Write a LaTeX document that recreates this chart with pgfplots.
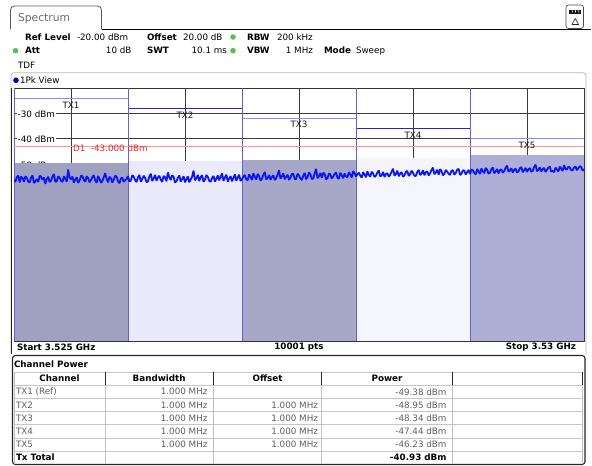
\documentclass[border=0pt]{standalone}
\usepackage{fontspec}
\setmainfont{DejaVu Sans}
\usepackage{pgfplots}
\pgfplotsset{compat=1.18}
\definecolor{ch1}{RGB}{160,160,192}
\definecolor{ch2}{RGB}{234,234,251}
\definecolor{ch3}{RGB}{167,167,200}
\definecolor{ch4}{RGB}{245,245,254}
\definecolor{ch5}{RGB}{174,174,214}
\definecolor{bound}{RGB}{95,95,235}
\definecolor{lvllight}{RGB}{140,140,240}
\definecolor{lvldark}{RGB}{40,40,190}
\definecolor{trace}{RGB}{10,20,255}
\definecolor{dline}{RGB}{255,150,150}
\definecolor{dtext}{RGB}{235,40,40}
\definecolor{gridc}{RGB}{60,60,60}
\definecolor{ledgreen}{RGB}{90,190,90}
\definecolor{ttext}{RGB}{95,95,95}
\begin{document}
\begin{tikzpicture}[x=1bp,y=1bp, every node/.style={inner sep=0pt, outer sep=0pt, font=\fontsize{8.8}{10}\selectfont}]
\path[use as bounding box] (0,0) rectangle (592,-466);
\fill[white] (0,0) rectangle (592,-466);
% tab
\draw[gray!70!black, line width=0.8bp] (10.5,-29.5) -- (10.5,-10) arc[start angle=180,end angle=90,radius=4] -- (97.5,-6) arc[start angle=90,end angle=0,radius=4] -- (101.5,-29.5);
\draw[black, line width=1.5bp] (101.5,-29.5) -- (591,-29.5);
\node[anchor=west, text=gray!85!black, font=\fontsize{10.8}{12}\selectfont] at (18,-18.5) {Spectrum};
% icon
\draw[gray!60!black, rounded corners=2.5bp, line width=0.7bp, fill=white] (566,-5) rectangle (583.5,-28.5);
\fill[gray!20!black] (569,-10.5) rectangle (581,-13.8);
\fill[white] (572,-10.5) rectangle (572.6,-12.5) (575.2,-10.5) rectangle (575.8,-12.5) (578.4,-10.5) rectangle (579,-12.5);
\draw[gray!30!black, line width=0.6bp] (572,-24.5) -- (578.5,-24.5) -- (575.25,-18.5) -- cycle;
% header text
\node[anchor=west] at (25,-37) {\bfseries Ref Level};
\node[anchor=west] at (77,-37) {-20.00 dBm};
\node[anchor=west] at (147,-37) {\bfseries Offset};
\node[anchor=west] at (183,-37) {20.00 dB};
\fill[ledgreen] (233,-37) circle (2.8);
\node[anchor=west] at (247,-37) {\bfseries RBW};
\node[anchor=west] at (277,-37) {200 kHz};
\fill[ledgreen] (15.5,-50.7) circle (2.8);
\node[anchor=west] at (25,-50.7) {\bfseries Att};
\node[anchor=east] at (131.5,-50.7) {10 dB};
\node[anchor=west] at (147,-50.7) {\bfseries SWT};
\node[anchor=east] at (227,-50.7) {10.1 ms};
\fill[ledgreen] (233,-50.7) circle (2.8);
\node[anchor=west] at (247,-50.7) {\bfseries VBW};
\node[anchor=east] at (313,-50.7) {1 MHz};
\node[anchor=west] at (324,-50.7) {\bfseries Mode};
\node[anchor=west] at (356,-50.7) {Sweep};
\node[anchor=west] at (18,-65.5) {TDF};
% plot container
\draw[gray!55, line width=0.8bp, rounded corners=3bp] (11,-354) -- (11,-72.7) -- (586,-72.7) -- (586,-354);
\draw[gray!30!black, line width=1bp] (11.8,-88) -- (11.8,-353.5);
\fill[blue!80!black] (16,-80.3) circle (2.8);
\node[anchor=west] at (20,-80.3) {1Pk View};
\node[anchor=west] at (17,-347) {\bfseries Start 3.525 GHz};
\node at (299,-347) {\bfseries 10001 pts};
\node[anchor=east] at (576,-347) {\bfseries Stop 3.53 GHz};
\begin{axis}[
  at={(14bp,-341bp)}, anchor=south west, scale only axis,
  width=570bp, height=252.7bp,
  xmin=0, xmax=5, ymin=-120, ymax=-20,
  xtick={0.5,1.5,2.5,3.5,4.5}, ytick={-110,-100,-90,-80,-70,-60,-50,-40,-30},
  xticklabels={}, yticklabels={}, major tick length=0pt,
  grid=major, major grid style={gridc, line width=0.7bp},
  axis line style={draw=gray!40!black, line width=0.8bp},
  clip=true,
]
\node[anchor=west, fill=white, inner sep=1bp] at (axis cs:0.024,-50.4) {-50 dBm};
\addplot[fill=ch1, draw=none] coordinates {(0,-120) (0,-49.38) (1,-49.38) (1,-120)} -- cycle;
\addplot[fill=ch2, draw=none] coordinates {(1,-120) (1,-48.95) (2,-48.95) (2,-120)} -- cycle;
\addplot[fill=ch3, draw=none] coordinates {(2,-120) (2,-48.34) (3,-48.34) (3,-120)} -- cycle;
\addplot[fill=ch4, draw=none] coordinates {(3,-120) (3,-47.44) (4,-47.44) (4,-120)} -- cycle;
\addplot[fill=ch5, draw=none] coordinates {(4,-120) (4,-46.23) (5,-46.23) (5,-120)} -- cycle;
\addplot[lvllight, line width=1bp] coordinates {(0,-24.2) (1,-24.2)};
\addplot[lvldark, line width=1bp] coordinates {(1,-27.9) (2,-27.9)};
\addplot[lvllight, line width=1bp] coordinates {(2,-32.0) (3,-32.0)};
\addplot[lvldark, line width=1bp] coordinates {(3,-35.8) (4,-35.8)};
\addplot[lvllight, line width=1bp] coordinates {(4,-39.8) (5,-39.8)};
\addplot[bound, line width=1bp] coordinates {(0,-20) (0,-120)};
\addplot[bound, line width=1bp] coordinates {(1,-20) (1,-120)};
\addplot[bound, line width=1bp] coordinates {(2,-20) (2,-120)};
\addplot[bound, line width=1bp] coordinates {(3,-20) (3,-120)};
\addplot[bound, line width=1bp] coordinates {(4,-20) (4,-120)};
\addplot[bound, line width=1bp] coordinates {(5,-20) (5,-120)};
\addplot[dline, line width=1bp] coordinates {(0,-43) (5,-43)};
\node[anchor=west, text=dtext] at (axis cs:0.518,-43.6) {D1~~-43.000 dBm};
\node[anchor=west, fill=white, inner sep=1bp] at (axis cs:0.024,-30.3) {-30 dBm};
\node[anchor=west, fill=white, inner sep=1bp] at (axis cs:0.024,-40.2) {-40 dBm};
\node[text=gray!20!black] at (axis cs:0.5,-26.6) {TX1};
\node[text=gray!20!black] at (axis cs:1.5,-30.8) {TX2};
\node[text=gray!20!black] at (axis cs:2.5,-34.1) {TX3};
\node[text=gray!20!black] at (axis cs:3.5,-38.5) {TX4};
\node[text=gray!20!black] at (axis cs:4.5,-42.4) {TX5};
\addplot[trace, line width=1.8bp, line join=bevel] coordinates {
(0,-56.4)(0.0125,-57.0)(0.025,-55.1)(0.0375,-54.6)(0.05,-57.2)(0.0625,-54.9)(0.075,-55.6)(0.0875,-57.0)(0.1,-54.8)(0.1125,-55.5)(0.125,-56.9)(0.1375,-57.3)(0.15,-55.3)(0.1625,-54.5)(0.175,-57.5)(0.1875,-56.8)(0.2,-55.9)(0.2125,-57.1)(0.225,-54.6)(0.2375,-55.0)
(0.25,-56.2)(0.2625,-55.3)(0.275,-57.8)(0.2875,-55.9)(0.3,-55.0)(0.3125,-57.1)(0.325,-56.5)(0.3375,-55.0)(0.35,-53.9)(0.3625,-57.0)(0.375,-56.8)(0.3875,-54.9)(0.4,-55.4)(0.4125,-56.6)(0.425,-57.1)(0.4375,-54.8)(0.45,-55.7)(0.4625,-57.0)(0.475,-52.1)(0.4875,-55.4)
(0.5,-56.0)(0.5125,-54.9)(0.525,-57.3)(0.5375,-56.2)(0.55,-55.2)(0.5625,-57.4)(0.575,-56.6)(0.5875,-54.6)(0.6,-54.7)(0.6125,-56.3)(0.625,-57.0)(0.6375,-54.8)(0.65,-55.5)(0.6625,-57.2)(0.675,-56.3)(0.6875,-55.1)(0.7,-54.4)(0.7125,-56.5)(0.725,-57.4)(0.7375,-54.7)
(0.75,-55.8)(0.7625,-57.4)(0.775,-56.7)(0.7875,-55.2)(0.8,-53.6)(0.8125,-55.9)(0.825,-57.2)(0.8375,-55.0)(0.85,-55.6)(0.8625,-57.3)(0.875,-56.1)(0.8875,-54.6)(0.9,-54.9)(0.9125,-56.8)(0.925,-57.6)(0.9375,-55.7)(0.95,-55.3)(0.9625,-57.0)(0.975,-56.4)(0.9875,-55.9)
(1,-54.8)(1.0125,-56.9)(1.025,-56.5)(1.0375,-54.4)(1.05,-55.0)(1.0625,-56.3)(1.075,-57.1)(1.0875,-55.2)(1.1,-54.3)(1.1125,-57.0)(1.125,-56.0)(1.1375,-54.6)(1.15,-55.4)(1.1625,-57.1)(1.175,-56.9)(1.1875,-54.9)(1.2,-53.8)(1.2125,-56.7)(1.225,-55.7)(1.2375,-54.3)
(1.25,-56.6)(1.2625,-55.3)(1.275,-54.6)(1.2875,-56.2)(1.3,-57.0)(1.3125,-54.7)(1.325,-55.2)(1.3375,-56.8)(1.35,-53.3)(1.3625,-55.2)(1.375,-56.3)(1.3875,-54.4)(1.4,-55.0)(1.4125,-57.3)(1.425,-56.8)(1.4375,-55.4)(1.45,-54.5)(1.4625,-56.9)(1.475,-55.9)(1.4875,-54.8)
(1.5,-57.2)(1.5125,-56.0)(1.525,-54.9)(1.5375,-57.2)(1.55,-56.1)(1.5625,-54.9)(1.575,-52.6)(1.5875,-56.4)(1.6,-55.6)(1.6125,-54.3)(1.625,-56.7)(1.6375,-55.1)(1.65,-54.4)(1.6625,-57.0)(1.675,-56.2)(1.6875,-54.3)(1.7,-55.1)(1.7125,-56.6)(1.725,-57.0)(1.7375,-55.5)
(1.75,-54.7)(1.7625,-56.9)(1.775,-55.8)(1.7875,-54.5)(1.8,-56.4)(1.8125,-55.0)(1.825,-53.7)(1.8375,-56.6)(1.85,-55.3)(1.8625,-54.2)(1.875,-56.9)(1.8875,-55.7)(1.9,-54.8)(1.9125,-56.8)(1.925,-55.5)(1.9375,-54.1)(1.95,-56.6)(1.9625,-55.3)(1.975,-54.2)(1.9875,-56.7)
(2,-55.9)(2.0125,-55.0)(2.025,-54.3)(2.0375,-56.0)(2.05,-56.4)(2.0625,-54.1)(2.075,-55.0)(2.0875,-56.3)(2.1,-53.6)(2.1125,-55.0)(2.125,-56.1)(2.1375,-53.9)(2.15,-54.7)(2.1625,-56.5)(2.175,-55.8)(2.1875,-54.2)(2.2,-53.1)(2.2125,-56.1)(2.225,-55.5)(2.2375,-54.3)
(2.25,-56.2)(2.2625,-55.1)(2.275,-54.4)(2.2875,-56.3)(2.3,-55.6)(2.3125,-54.1)(2.325,-52.4)(2.3375,-55.8)(2.35,-54.9)(2.3625,-53.7)(2.375,-56.0)(2.3875,-55.0)(2.4,-54.2)(2.4125,-56.3)(2.425,-55.3)(2.4375,-53.9)(2.45,-53.8)(2.4625,-56.0)(2.475,-55.9)(2.4875,-53.8)
(2.5,-54.6)(2.5125,-55.7)(2.525,-56.3)(2.5375,-54.5)(2.55,-53.5)(2.5625,-56.0)(2.575,-55.1)(2.5875,-53.3)(2.6,-54.0)(2.6125,-55.9)(2.625,-55.7)(2.6375,-53.6)(2.65,-51.9)(2.6625,-55.6)(2.675,-54.8)(2.6875,-53.5)(2.7,-55.4)(2.7125,-53.4)(2.725,-53.9)(2.7375,-56.0)
(2.75,-55.6)(2.7625,-53.7)(2.775,-54.1)(2.7875,-55.7)(2.8,-55.0)(2.8125,-53.9)(2.825,-53.3)(2.8375,-55.4)(2.85,-55.8)(2.8625,-53.4)(2.875,-54.5)(2.8875,-55.6)(2.9,-53.7)(2.9125,-54.9)(2.925,-55.2)(2.9375,-53.2)(2.95,-54.0)(2.9625,-55.3)(2.975,-52.8)(2.9875,-53.6)
(3,-54.9)(3.0125,-54.0)(3.025,-53.4)(3.0375,-54.6)(3.05,-55.4)(3.0625,-53.2)(3.075,-54.1)(3.0875,-55.2)(3.1,-52.9)(3.1125,-54.2)(3.125,-55.0)(3.1375,-53.0)(3.15,-53.7)(3.1625,-55.1)(3.175,-54.6)(3.1875,-53.3)(3.2,-52.5)(3.2125,-54.9)(3.225,-54.4)(3.2375,-53.1)
(3.25,-55.1)(3.2625,-53.9)(3.275,-53.6)(3.2875,-55.0)(3.3,-54.2)(3.3125,-53.0)(3.325,-51.8)(3.3375,-54.6)(3.35,-53.9)(3.3625,-52.6)(3.375,-54.8)(3.3875,-53.7)(3.4,-53.2)(3.4125,-55.0)(3.425,-54.5)(3.4375,-53.0)(3.45,-52.7)(3.4625,-54.7)(3.475,-54.0)(3.4875,-52.6)
(3.5,-53.5)(3.5125,-54.6)(3.525,-54.7)(3.5375,-53.1)(3.55,-52.3)(3.5625,-54.3)(3.575,-53.8)(3.5875,-52.4)(3.6,-54.4)(3.6125,-53.2)(3.625,-52.9)(3.6375,-54.5)(3.65,-53.6)(3.6625,-52.3)(3.675,-51.4)(3.6875,-54.0)(3.7,-53.3)(3.7125,-52.2)(3.725,-54.2)(3.7375,-52.0)
(3.75,-52.8)(3.7625,-54.4)(3.775,-53.9)(3.7875,-52.3)(3.8,-53.0)(3.8125,-53.8)(3.825,-54.3)(3.8375,-52.6)(3.85,-52.4)(3.8625,-54.2)(3.875,-53.5)(3.8875,-52.2)(3.9,-51.9)(3.9125,-54.3)(3.925,-53.8)(3.9375,-52.4)(3.95,-52.6)(3.9625,-54.1)(3.975,-53.2)(3.9875,-52.3)
(4,-53.9)(4.0125,-52.1)(4.025,-52.5)(4.0375,-53.5)(4.05,-54.1)(4.0625,-51.9)(4.075,-52.9)(4.0875,-53.9)(4.1,-51.7)(4.1125,-52.8)(4.125,-53.6)(4.1375,-51.5)(4.15,-52.2)(4.1625,-53.8)(4.175,-53.4)(4.1875,-52.0)(4.2,-51.3)(4.2125,-53.6)(4.225,-53.0)(4.2375,-51.9)
(4.25,-53.7)(4.2625,-52.4)(4.275,-52.1)(4.2875,-53.4)(4.3,-52.8)(4.3125,-51.4)(4.325,-50.6)(4.3375,-53.0)(4.35,-52.6)(4.3625,-51.6)(4.375,-53.3)(4.3875,-52.3)(4.4,-51.8)(4.4125,-53.3)(4.425,-52.9)(4.4375,-51.6)(4.45,-51.2)(4.4625,-53.2)(4.475,-52.4)(4.4875,-51.5)
(4.5,-53.1)(4.5125,-52.0)(4.525,-51.6)(4.5375,-53.0)(4.55,-52.7)(4.5625,-51.2)(4.575,-50.2)(4.5875,-52.8)(4.6,-52.3)(4.6125,-51.3)(4.625,-53.0)(4.6375,-52.0)(4.65,-51.5)(4.6625,-53.1)(4.675,-52.2)(4.6875,-51.4)(4.7,-51.0)(4.7125,-53.0)(4.725,-52.6)(4.7375,-53.2)
(4.75,-51.4)(4.7625,-52.2)(4.775,-52.9)(4.7875,-51.0)(4.8,-51.8)(4.8125,-52.7)(4.825,-50.4)(4.8375,-52.0)(4.85,-52.1)(4.8625,-51.0)(4.875,-51.3)(4.8875,-52.4)(4.9,-52.5)(4.9125,-51.4)(4.925,-50.9)(4.9375,-52.4)(4.95,-51.7)(4.9625,-50.8)(4.975,-51.1)(4.9875,-52.6)
(5,-52.0)};
\end{axis}
% channel power table
\draw[gray!30!black, line width=1.1bp, rounded corners=3bp, fill=white] (12.5,-464.5) -- (12.5,-355.5) -- (585,-355.5) -- (585,-464.5) -- cycle;
\node[anchor=west] at (14,-364.3) {\bfseries Channel Power};
\draw[gray!45, line width=0.6bp] (14,-372) -- (583,-372);
\foreach \yy in {385,398.3,411.5,424.7,438,451.2} {\draw[gray!45, line width=0.6bp] (14,-\yy) -- (583,-\yy);}
\foreach \xx in {105,213.3,321.7,452.3,582.7} {\draw[gray!30!black, line width=0.9bp] (\xx,-372) -- (\xx,-385); \draw[gray!50, line width=0.6bp] (\xx,-385) -- (\xx,-464);}
\draw[gray!50, line width=0.6bp] (14,-372) -- (14,-464);
\node at (59.5,-378.7) {\bfseries Channel};
\node at (159.2,-378.7) {\bfseries Bandwidth};
\node at (267.5,-378.7) {\bfseries Offset};
\node at (387,-378.7) {\bfseries Power};
\begin{scope}[every node/.append style={text=ttext}]
\node[anchor=west] at (16,-391.8) {TX1 (Ref)};
\node[anchor=west] at (16,-405) {TX2};
\node[anchor=west] at (16,-418.2) {TX3};
\node[anchor=west] at (16,-431.4) {TX4};
\node[anchor=west] at (16,-444.6) {TX5};
\foreach \yy in {391.8,405,418.2,431.4,444.6} {\node[anchor=east] at (207.5,-\yy) {1.000 MHz};}
\foreach \yy in {405,418.2,431.4,444.6} {\node[anchor=east] at (318,-\yy) {1.000 MHz};}
\node[anchor=east] at (446.5,-391.8) {-49.38 dBm};
\node[anchor=east] at (446.5,-405) {-48.95 dBm};
\node[anchor=east] at (446.5,-418.2) {-48.34 dBm};
\node[anchor=east] at (446.5,-431.4) {-47.44 dBm};
\node[anchor=east] at (446.5,-444.6) {-46.23 dBm};
\end{scope}
\node[anchor=west] at (16,-457.6) {\bfseries Tx Total};
\node[anchor=east] at (446.5,-457.6) {\bfseries -40.93 dBm};
\end{tikzpicture}
\end{document}
